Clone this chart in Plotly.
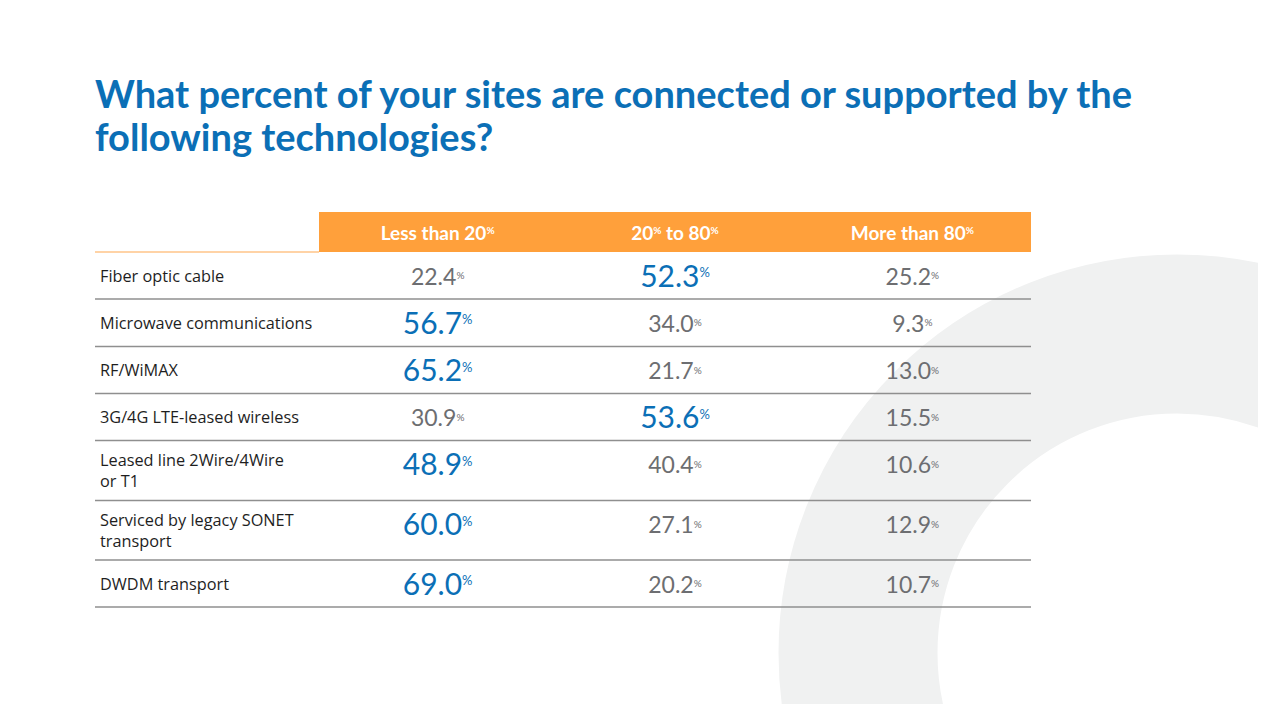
import plotly.graph_objects as go

# survey data
technologies = [
    "Fiber optic cable",
    "Microwave communications",
    "RF/WiMAX",
    "3G/4G LTE-leased wireless",
    "Leased line 2Wire/4Wire<br>or T1",
    "Serviced by legacy SONET<br>transport",
    "DWDM transport",
]
buckets = ["Less than 20%", "20% to 80%", "More than 80%"]
less_than_20 = [22.4, 56.7, 65.2, 30.9, 48.9, 60.0, 69.0]
from_20_to_80 = [52.3, 34.0, 21.7, 53.6, 40.4, 27.1, 20.2]
more_than_80 = [25.2, 9.3, 13.0, 15.5, 10.6, 12.9, 10.7]
title_lines = ["What percent of your sites are connected or supported by the",
               "following technologies?"]

# layout in page pixels (the page body has an 8px margin)
PAGE_W, PAGE_H, BODY = 1266, 712, 8
table_left, table_right = 95, 1031
header_left, header_top, header_bottom = 319, 212, 252
row_heights = [47, 47.5, 47, 47, 60, 59.5, 47]
value_offset = 27

BLUE = "#0B6FB6"
GREY = "#6D6E71"
ORANGE = "#FFA03B"
LINE = "#8F8F8F"

col_w = (table_right - header_left) / len(buckets)
col_x = [header_left + col_w * (i + 0.5) for i in range(len(buckets))]

row_top = [header_bottom]
for h in row_heights:
    row_top.append(row_top[-1] + h)
row_mid = [row_top[i] + row_heights[i] / 2 + 2 for i in range(len(row_heights))]
value_y = [row_top[i] + value_offset for i in range(len(row_heights))]


def pct(v, lift, size):
    # small raised percent sign
    return (f"{v:.1f}<span style='font-size:{lift}px'><sup>"
            f"<span style='font-size:{size}px'>%</span></sup></span>")


series = [less_than_20, from_20_to_80, more_than_80]

fig = go.Figure()

# row labels
fig.add_trace(go.Scatter(
    x=[table_left + 5] * len(technologies), y=row_mid, text=technologies,
    mode="text", textposition="middle right",
    textfont=dict(family="Open Sans", size=16.3, color="#1E1E1E"),
    hoverinfo="skip", showlegend=False,
))

# values: the largest share of each row is highlighted
hx, hy, ht, nx, ny, nt = [], [], [], [], [], []
for r in range(len(technologies)):
    vals = [s[r] for s in series]
    best = vals.index(max(vals))
    for c, v in enumerate(vals):
        if c == best:
            hx.append(col_x[c]); hy.append(value_y[r]); ht.append(pct(v, 22, 13))
        else:
            nx.append(col_x[c]); ny.append(value_y[r]); nt.append(pct(v, 13, 10))

fig.add_trace(go.Scatter(
    x=nx, y=ny, text=nt, mode="text", textposition="middle center",
    textfont=dict(family="Lato", size=23, color=GREY),
    hoverinfo="skip", showlegend=False,
))
fig.add_trace(go.Scatter(
    x=hx, y=hy, text=ht, mode="text", textposition="middle center",
    textfont=dict(family="Lato", size=30, color=BLUE),
    hoverinfo="skip", showlegend=False,
))

# header labels
fig.add_trace(go.Scatter(
    x=col_x, y=[(header_top + header_bottom) / 2 + 3] * len(buckets),
    text=[b.replace("%", "<span style='font-size:14px'><sup><span style='font-size:10px'>%</span></sup></span>")
          for b in buckets],
    mode="text", textposition="middle center",
    textfont=dict(family="Lato", size=19, color="white", weight=700),
    hoverinfo="skip", showlegend=False,
))

shapes = []
# light grey ring in the background
cx, cy, r_mid, ring_w = 1177, 653, 319, 159
shapes.append(dict(type="circle", layer="below", x0=cx - r_mid, x1=cx + r_mid,
                   y0=cy - r_mid, y1=cy + r_mid,
                   line=dict(color="#F0F1F1", width=ring_w)))
shapes.append(dict(type="rect", layer="below", x0=header_left, x1=table_right,
                   y0=header_top, y1=header_bottom, fillcolor=ORANGE, line_width=0))
shapes.append(dict(type="line", layer="below", x0=table_left, x1=header_left,
                   y0=header_bottom, y1=header_bottom,
                   line=dict(color="#FFC488", width=1.5)))
for y in row_top[1:]:
    shapes.append(dict(type="line", layer="below", x0=table_left, x1=table_right,
                       y0=y, y1=y, line=dict(color=LINE, width=1.6)))

annotations = [
    dict(x=table_left - 2, y=y, xref="x", yref="y", xanchor="left", yanchor="middle",
         align="left", showarrow=False, text=line,
         font=dict(family="Lato", size=38, color=BLUE, weight=700))
    for line, y in zip(title_lines, [93, 136])
]

fig.update_layout(
    width=PAGE_W - 2 * BODY, height=PAGE_H - 2 * BODY,
    margin=dict(l=0, r=0, t=0, b=0),
    paper_bgcolor="white", plot_bgcolor="white",
    xaxis=dict(range=[BODY, PAGE_W - BODY], visible=False, fixedrange=True),
    yaxis=dict(range=[PAGE_H - BODY, BODY], visible=False, fixedrange=True),
    shapes=shapes,
    annotations=annotations,
)

fig.write_html("out.html")
